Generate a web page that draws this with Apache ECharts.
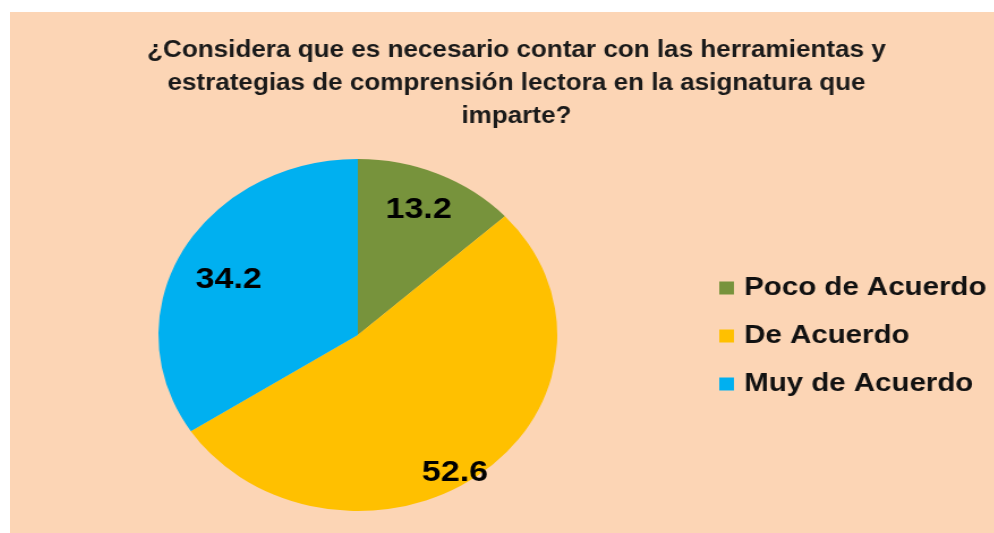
<!DOCTYPE html>
<html lang="es">
<head>
    <meta charset="UTF-8">
    <title>Comprensión lectora</title>
    <style>
        html, body { margin: 0; padding: 0; background: #fff; overflow: hidden; }
        #wrap { position: relative; width: 994px; height: 533px; background: #fff; }
        /* the reference is stretched sideways, so the chart is drawn narrower and widened */
        #main {
            position: absolute; left: 10px; top: 12px;
            width: 869px; height: 521px;
            transform: scaleX(1.133); transform-origin: 0 0;
        }
    </style>
</head>
<body>
<div id="wrap"><div id="main"></div></div>
<script src="https://cdn.jsdelivr.net/npm/echarts@6/dist/echarts.min.js"></script>
<script>
    const titulo = '¿Considera que es necesario contar con las herramientas y\nestrategias de comprensión lectora en la asignatura que\nimparte?';
    const categorias = ['Poco de Acuerdo', 'De Acuerdo', 'Muy de Acuerdo'];
    const valores = [13.2, 52.6, 34.2];
    const colores = ['#77933C', '#FFC000', '#00B0F0'];
    // small nudges so the labels sit where Excel put them
    const labelNudge = [[17, -42], [30, 66], [-34, -12]];

    const myChart = echarts.init(document.getElementById('main'));
    myChart.setOption({
        backgroundColor: '#FCD5B5',
        animation: false,
        title: {
            text: titulo,
            left: 442,
            textAlign: 'center',
            top: 17,
            textStyle: {
                fontFamily: 'Liberation Sans',
                fontWeight: 'bold',
                fontSize: 23,
                lineHeight: 33,
                color: '#1a1a1a'
            }
        },
        legend: {
            orient: 'vertical',
            left: 621,
            top: 258,
            itemWidth: 13,
            itemHeight: 13,
            itemGap: 22,
            icon: 'rect',
            textStyle: {
                fontFamily: 'Liberation Sans',
                fontWeight: 'bold',
                fontSize: 26,
                padding: [0, 0, 0, 4],
                color: '#111'
            },
            data: categorias
        },
        series: [{
            type: 'pie',
            center: [307, 323],
            radius: 176,
            startAngle: 90,
            clockwise: true,
            color: colores,
            label: {
                position: 'inside',
                formatter: '{c}',
                fontFamily: 'Liberation Sans',
                fontWeight: 'bold',
                fontSize: 30,
                color: '#000'
            },
            labelLayout: function (p) {
                const n = labelNudge[p.dataIndex];
                return { dx: n[0], dy: n[1] };
            },
            emphasis: { disabled: true },
            data: categorias.map(function (c, i) {
                return { name: c, value: valores[i] };
            })
        }]
    });
</script>
</body>
</html>
